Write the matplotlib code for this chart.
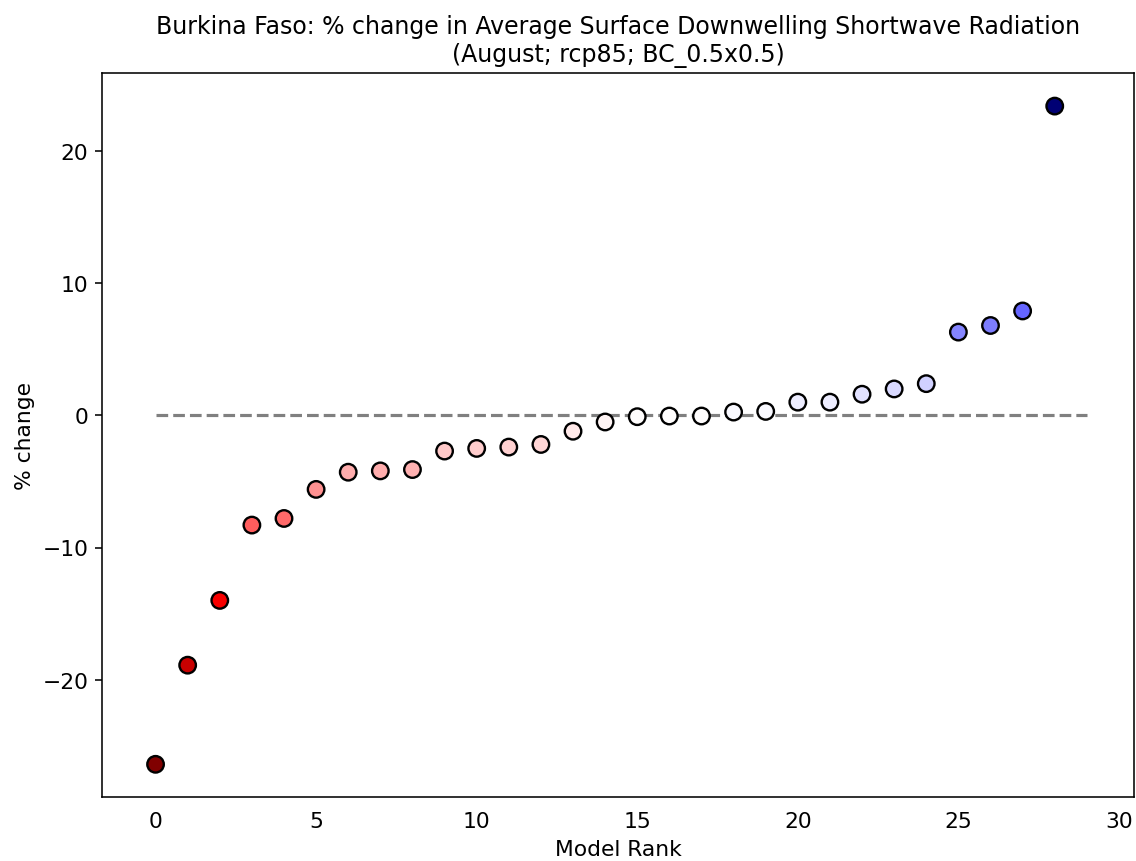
import matplotlib
matplotlib.use("Agg")
import matplotlib.pyplot as plt
import numpy as np

# values, sorted by model rank
ranks = list(range(29))
pct_change = [-26.4, -18.9, -14.0, -8.3, -7.8, -5.6, -4.3, -4.2, -4.1,
              -2.7, -2.5, -2.4, -2.2, -1.2, -0.5, -0.1, -0.05, -0.05,
              0.25, 0.3, 1.0, 1.0, 1.6, 2.0, 2.4, 6.3, 6.8, 7.9, 23.4]

title = "Burkina Faso: % change in Average Surface Downwelling Shortwave Radiation\n(August; rcp85; BC_0.5x0.5)"

fig = plt.figure(figsize=(8, 6.07), dpi=142)
ax = fig.add_axes([0.09, 0.074, 0.908, 0.84])

vals = np.array(pct_change)
lim = np.abs(vals).max()
ax.hlines(0, 0, len(vals), colors="grey", linestyles="--", linewidth=1.6, zorder=1)
ax.scatter(ranks, vals, c=vals, cmap="seismic_r", vmin=-lim, vmax=lim,
           s=70, edgecolors="black", linewidths=1.2, zorder=2)

ax.set_xlim(-1.66, 30.46)
ax.set_title(title, fontsize=12)
ax.set_xlabel("Model Rank", fontsize=11)
ax.set_ylabel("% change", fontsize=11)
ax.tick_params(labelsize=11)
# x tick marks are not visible in the original
ax.tick_params(axis="x", color=(0, 0, 0, 0))

fig.savefig("out.png")
